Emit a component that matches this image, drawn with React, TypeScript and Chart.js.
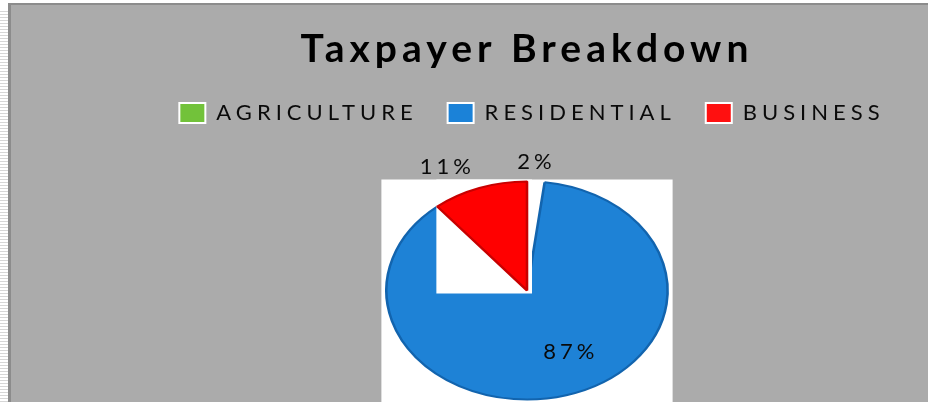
import React, { useEffect, useRef } from 'react';
import { Chart, registerables } from 'chart.js';

Chart.register(...registerables);

// ---- data ----
const categories = ['AGRICULTURE', 'RESIDENTIAL', 'BUSINESS'];
const shares = [2, 87, 11];
const chartTitle = 'Taxpayer Breakdown';

// ---- styles ----
const sliceColors = ['#ffffff', '#1e82d6', '#ff0000'];
const sliceBorders = ['#ffffff', '#1264ae', '#c80000'];
const sliceBorderWidths = [0, 2, 2];
const legendColors = ['#72c23a', '#1b82d8', '#ff1010'];
const labelRadius = [1.186, 0.583, 1.209];
const labelShiftX = [-3, 19, -24];
const SX = 1.29; // horizontal stretch of the pie (ellipse)
const LEGEND_SHIFT = 5;

const spacingPlugin = {
  id: 'spacing',
  beforeUpdate(chart: any) { chart.ctx.letterSpacing = '5px'; },
  beforeLayout(chart: any) { chart.ctx.letterSpacing = '5px'; },
  beforeDraw(chart: any) { chart.ctx.letterSpacing = '5px'; },
};

const ellipsePlugin = {
  id: 'ellipse',
  beforeDatasetsDraw(chart: any) {
    const ctx = chart.ctx;
    const arc = chart.getDatasetMeta(0).data[0];
    const { x, y, outerRadius: r } = arc;
    ctx.save();
    ctx.fillStyle = '#ffffff';
    ctx.fillRect(x - r * SX - 5, y - r - 2, 2 * (r * SX + 5), chart.height);
    ctx.restore();
    ctx.save();
    ctx.translate(x, y);
    ctx.scale(SX, 1);
    ctx.translate(-x, -y);
  },
  afterDatasetsDraw(chart: any) {
    const ctx = chart.ctx;
    ctx.restore();
    const biz = chart.getDatasetMeta(0).data[2];
    const { x, y, outerRadius: r, startAngle } = biz;
    const left = x + Math.cos(startAngle) * r * SX - 1;
    ctx.save();
    ctx.fillStyle = '#ffffff';
    ctx.fillRect(left, y - r - 2, x + 5 - left, r + 5);
    ctx.translate(x, y);
    ctx.scale(SX, 1);
    ctx.translate(-x, -y);
    biz.draw(ctx);
    ctx.restore();
  },
};

const labelPlugin = {
  id: 'pctLabels',
  afterDraw(chart: any) {
    const ctx = chart.ctx;
    const meta = chart.getDatasetMeta(0);
    ctx.save();
    ctx.letterSpacing = '4px';
    ctx.font = '22px Lato';
    ctx.fillStyle = '#0a0a0a';
    ctx.textAlign = 'center';
    ctx.textBaseline = 'middle';
    meta.data.forEach((arc: any, i: number) => {
      const mid = (arc.startAngle + arc.endAngle) / 2;
      const r = arc.outerRadius * labelRadius[i];
      const x = arc.x + Math.cos(mid) * r * SX + labelShiftX[i] + 2;
      const y = arc.y + Math.sin(mid) * r;
      ctx.fillText(`${shares[i]}%`, x, y);
    });
    ctx.restore();
  },
};

export default function App() {
  const ref = useRef<HTMLCanvasElement>(null);
  useEffect(() => {
    document.body.style.margin = '0';
    const chart = new Chart(ref.current!, {
      type: 'pie',
      data: {
        labels: categories,
        datasets: [
          {
            data: shares,
            backgroundColor: sliceColors,
            borderColor: sliceBorders,
            borderWidth: sliceBorderWidths,
            clip: false as any,
          },
        ],
      },
      options: {
        responsive: false,
        animation: false,
        devicePixelRatio: 1,
        radius: 109,
        layout: { padding: 0 },
        plugins: {
          title: {
            display: true,
            text: chartTitle,
            color: '#000000',
            font: { family: 'Lato', size: 39, weight: 'bold', lineHeight: 1.2 },
            padding: { top: 21.1, bottom: -0.9 },
          },
          legend: {
            display: true,
            position: 'top',
            labels: {
              boxWidth: 26,
              boxHeight: 20,
              padding: 30,
              color: '#0a0a0a',
              font: { family: 'Lato', size: 22 },
              generateLabels: () =>
                categories.map((c, i) => ({
                  text: c,
                  fillStyle: legendColors[i],
                  strokeStyle: '#ffffff',
                  lineWidth: 2,
                  hidden: false,
                  index: i,
                  fontColor: '#0a0a0a',
                })),
            },
          },
          tooltip: { enabled: false },
        },
      } as any,
      plugins: [spacingPlugin, ellipsePlugin, labelPlugin],
    });
    const lg: any = (chart as any).legend;
    if (lg) {
      const origDraw = lg.draw;
      lg.draw = function (...args: any[]) {
        const ctx = this.ctx;
        ctx.save();
        ctx.translate(LEGEND_SHIFT, 0);
        origDraw.apply(this, args);
        ctx.restore();
      };
      chart.update();
    }
    return () => chart.destroy();
  }, []);

  return (
    <div
      style={{
        position: 'fixed',
        left: 0,
        top: 0,
        width: 928,
        height: 402,
        overflow: 'hidden',
        background: '#ffffff',
      }}
    >
      <div
        style={{
          position: 'absolute',
          left: 0,
          top: 10,
          width: 8,
          height: 392,
          backgroundImage:
            'repeating-linear-gradient(0deg, #d6d6d6 0px, #d6d6d6 1px, #ffffff 1px, #ffffff 3px)',
        }}
      />
      <div
        style={{
          position: 'absolute',
          left: 8,
          top: 3,
          width: 920,
          height: 399,
          background: '#8c8c8c',
        }}
      />
      <div
        style={{
          position: 'absolute',
          left: 11,
          top: 5,
          width: 917,
          height: 397,
          background: '#ababab',
        }}
      />
      <canvas
        ref={ref}
        width={1032}
        height={442}
        style={{ position: 'absolute', left: 11, top: 5, width: 1032, height: 442 }}
      />
    </div>
  );
}
